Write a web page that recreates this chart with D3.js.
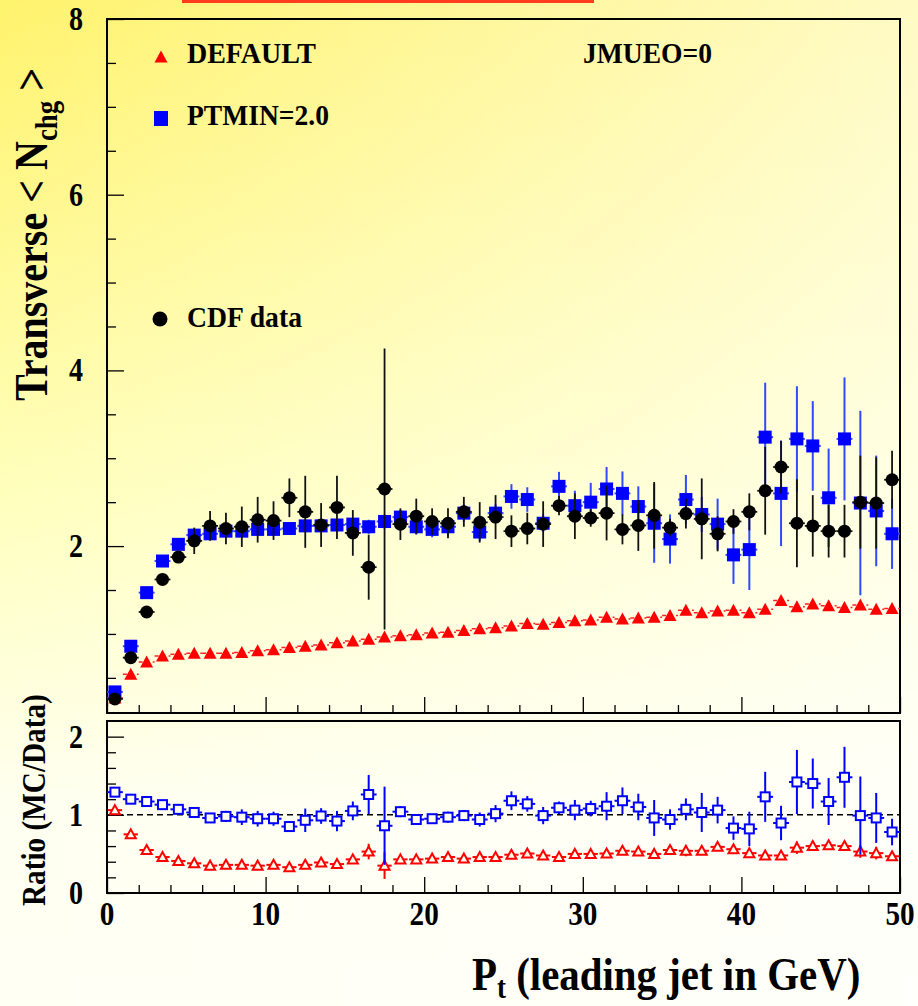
<!DOCTYPE html>
<meta charset="utf-8">
<style>
body{margin:0;}
text{
  font-family:"Liberation Serif","Times New Roman",serif;
  font-weight:bold;
  fill:#000;
}
.frame{fill:none;stroke:#000;stroke-width:2px;}
.tick line{stroke:#000;stroke-width:1.3px;}
</style>
<body>
<div id="plot"></div>
<script src="https://d3js.org/d3.v7.min.js"></script>
<script>
// bin centres (leading jet Pt, GeV)
var ptBins = [0.5,1.5,2.5,3.5,4.5,5.5,6.5,7.5,8.5,9.5,
  10.5,11.5,12.5,13.5,14.5,15.5,16.5,17.5,18.5,19.5,
  20.5,21.5,22.5,23.5,24.5,25.5,26.5,27.5,28.5,29.5,
  30.5,31.5,32.5,33.5,34.5,35.5,36.5,37.5,38.5,39.5,
  40.5,41.5,42.5,43.5,44.5,45.5,46.5,47.5,48.5,49.5];

var cdfData = [0.26,0.73,1.25,1.62,1.875,2.06,2.23,2.20,2.22,2.30,
  2.29,2.55,2.39,2.24,2.44,2.15,1.76,2.65,2.25,2.34,
  2.28,2.26,2.39,2.27,2.33,2.17,2.20,2.25,2.46,2.34,
  2.32,2.375,2.19,2.235,2.35,2.21,2.37,2.31,2.14,2.28,
  2.39,2.63,2.90,2.26,2.23,2.17,2.17,2.50,2.49,2.755];
var cdfErr = [0.02,0.02,0.03,0.04,0.05,0.15,0.17,0.18,0.23,0.26,
  0.22,0.22,0.41,0.25,0.36,0.26,0.37,1.60,0.18,0.20,
  0.15,0.17,0.17,0.23,0.25,0.18,0.18,0.26,0.11,0.26,
  0.10,0.31,0.17,0.29,0.38,0.10,0.17,0.46,0.20,0.14,
  0.21,0.50,0.30,0.50,0.35,0.30,0.30,0.53,0.52,0.33];

var ptminMC = [0.34,0.86,1.47,1.83,2.02,2.125,2.14,2.17,2.17,2.19,
  2.19,2.20,2.23,2.23,2.24,2.25,2.22,2.28,2.33,2.22,
  2.19,2.22,2.375,2.16,2.375,2.565,2.53,2.26,2.68,2.46,
  2.50,2.65,2.60,2.45,2.26,2.08,2.53,2.36,2.25,1.90,
  1.96,3.24,2.60,3.22,3.14,2.55,3.22,2.49,2.40,2.14];
var ptminErr = [0.02,0.02,0.03,0.03,0.03,0.04,0.04,0.04,0.05,0.05,
  0.05,0.05,0.06,0.06,0.07,0.07,0.08,0.08,0.08,0.09,
  0.09,0.10,0.10,0.10,0.10,0.14,0.14,0.10,0.165,0.17,
  0.22,0.25,0.25,0.23,0.45,0.28,0.28,0.20,0.29,0.33,
  0.46,0.62,0.60,0.60,0.51,0.56,0.70,1.05,0.63,0.40];

var defaultMC = [0.27,0.54,0.68,0.75,0.77,0.78,0.78,0.78,0.79,0.81,
  0.82,0.845,0.86,0.875,0.90,0.92,0.94,0.965,0.98,0.99,
  1.01,1.02,1.04,1.06,1.07,1.09,1.12,1.11,1.13,1.15,
  1.16,1.19,1.17,1.18,1.19,1.21,1.27,1.24,1.26,1.27,
  1.24,1.28,1.38,1.31,1.34,1.32,1.30,1.33,1.28,1.29];

var ratioPtmin = [1.29,1.20,1.17,1.13,1.07,1.03,0.96,0.98,0.97,0.95,
  0.95,0.85,0.93,0.985,0.92,1.05,1.26,0.86,1.04,0.94,
  0.95,0.97,0.99,0.94,1.015,1.18,1.14,0.99,1.09,1.06,
  1.08,1.11,1.18,1.10,0.96,0.94,1.07,1.03,1.06,0.83,
  0.82,1.23,0.895,1.42,1.40,1.17,1.48,0.99,0.96,0.78];
var ratioPtminErr = [0.03,0.03,0.03,0.03,0.04,0.04,0.05,0.07,0.10,0.10,
  0.09,0.07,0.15,0.10,0.13,0.12,0.25,0.50,0.07,0.06,
  0.06,0.07,0.07,0.09,0.11,0.12,0.10,0.11,0.08,0.13,
  0.10,0.18,0.17,0.17,0.23,0.13,0.14,0.25,0.17,0.15,
  0.22,0.32,0.22,0.41,0.32,0.30,0.39,0.50,0.32,0.17];

var ratioDefault = [1.06,0.75,0.55,0.46,0.41,0.38,0.35,0.36,0.36,0.35,
  0.36,0.33,0.36,0.39,0.37,0.43,0.53,0.35,0.43,0.43,
  0.44,0.46,0.44,0.46,0.46,0.49,0.505,0.48,0.46,0.50,
  0.50,0.505,0.54,0.53,0.50,0.55,0.54,0.54,0.59,0.56,
  0.51,0.48,0.48,0.58,0.60,0.61,0.60,0.53,0.51,0.47];
var ratioDefaultErr = [0.02,0.02,0.02,0.02,0.02,0.02,0.02,0.02,0.02,0.02,
  0.02,0.02,0.02,0.02,0.02,0.02,0.10,0.17,0.02,0.02,
  0.02,0.02,0.02,0.02,0.02,0.02,0.02,0.02,0.02,0.02,
  0.03,0.03,0.04,0.05,0.03,0.04,0.07,0.03,0.04,0.03,
  0.04,0.05,0.03,0.08,0.06,0.05,0.05,0.08,0.08,0.04];

var xTicks = [0,10,20,30,40,50];
var yTicksTop = [2,4,6,8];
var yTicksRatio = [0,1,2];

var svg = d3.select("#plot").append("svg").attr("width",918).attr("height",1006);

// page background
var defs = svg.append("defs");
var bg = defs.append("linearGradient").attr("id","bg")
    .attr("x1",0).attr("y1",0).attr("x2",0).attr("y2",1);
bg.append("stop").attr("offset","0%").attr("stop-color","#fff36c");
bg.append("stop").attr("offset","50%").attr("stop-color","#ffffbe");
bg.append("stop").attr("offset","80%").attr("stop-color","#fffff0");
bg.append("stop").attr("offset","100%").attr("stop-color","#fffff4");
var sheen = defs.append("linearGradient").attr("id","sheen")
    .attr("x1",0).attr("y1",0).attr("x2",1).attr("y2",0);
sheen.append("stop").attr("offset","0%").attr("stop-color","#fff").attr("stop-opacity",0);
sheen.append("stop").attr("offset","100%").attr("stop-color","#fff").attr("stop-opacity",0.6);
svg.append("rect").attr("width",918).attr("height",1006).attr("fill","url(#bg)");
svg.append("rect").attr("width",918).attr("height",1006).attr("fill","url(#sheen)");

// red underline of the cut-off title
svg.append("rect").attr("x",182).attr("y",0).attr("width",412).attr("height",3).attr("fill","#ff3c1e");

var x = d3.scaleLinear().domain([0,50]).range([107,900]);
var yTop = d3.scaleLinear().domain([0.1,8]).range([713,19]);
var yRat = d3.scaleLinear().domain([0,2.2]).range([893,721]);

function notIn(list){ return function(v){ return list.indexOf(v) < 0; }; }
var xMinor = d3.range(0,51,2).filter(notIn(xTicks));
var yMinorTop = d3.range(0.5,8,0.5).filter(notIn(yTicksTop));
var yMinorRat = d3.range(0.2,2.2,0.2).map(function(v){return +v.toFixed(1);}).filter(notIn([1,2]));

function axisG(tr, axis){
    var g = svg.append("g").attr("transform",tr).call(axis);
    g.select(".domain").remove();
    return g;
}

// upper panel ticks
axisG("translate(107,0)", d3.axisLeft(yTop).tickValues(yTicksTop).tickSize(-17).tickFormat(""));
axisG("translate(107,0)", d3.axisLeft(yTop).tickValues(yMinorTop).tickSize(-9).tickFormat(""));
axisG("translate(0,713)", d3.axisBottom(x).tickValues(xTicks).tickSize(-16).tickFormat(""));
axisG("translate(0,713)", d3.axisBottom(x).tickValues(xMinor).tickSize(-8).tickFormat(""));

// ratio panel ticks
axisG("translate(107,0)", d3.axisLeft(yRat).tickValues(yTicksRatio).tickSize(-17).tickFormat(""));
axisG("translate(107,0)", d3.axisLeft(yRat).tickValues(yMinorRat).tickSize(-9).tickFormat(""));
axisG("translate(0,893)", d3.axisBottom(x).tickValues(xTicks).tickSize(-16).tickFormat(""));
axisG("translate(0,893)", d3.axisBottom(x).tickValues(xMinor).tickSize(-8).tickFormat(""));

// frames
svg.append("rect").attr("class","frame").attr("x",107).attr("y",19).attr("width",793).attr("height",694);
svg.append("rect").attr("class","frame").attr("x",107).attr("y",721).attr("width",793).attr("height",172);

function label(str, px, py, size, anchor, sx){
    return svg.append("text")
        .attr("transform","translate("+px+","+py+") scale("+sx+",1)")
        .attr("text-anchor",anchor)
        .style("font-size",size+"px")
        .text(str);
}

yTicksTop.forEach(function(v){ label(v, 83, yTop(v)+11, 33, "end", 0.85); });
yTicksRatio.forEach(function(v){ label(v, 83, yRat(v)+11, 33, "end", 0.85); });
xTicks.forEach(function(v){ label(v, x(v), 925, 34, "middle", 0.86); });

// axis titles
var yt = svg.append("text").attr("transform","translate(47,401) rotate(-90) scale(0.87,1)").style("font-size","46px");
yt.append("tspan").text("Transverse < N");
yt.append("tspan").attr("dy",10).style("font-size","31px").text("chg");
yt.append("tspan").attr("dy",-10).text(" >");

svg.append("text").attr("transform","translate(45,906) rotate(-90) scale(0.86,1)").style("font-size","34px").text("Ratio (MC/Data)");

var xt = svg.append("text").attr("transform","translate(472,990) scale(0.87,1)").style("font-size","47px");
xt.append("tspan").text("P");
xt.append("tspan").attr("dy",8).style("font-size","31px").text("t");
xt.append("tspan").attr("dy",-8).text(" (leading jet in GeV)");

// legend
var tri = "M0,-6.5L6.5,5.5L-6.5,5.5Z";
var triOpen = "M0,-5L5,4L-5,4Z";
svg.append("path").attr("d",tri).attr("transform","translate(161,57)").attr("fill","#ff0000");
svg.append("rect").attr("x",154).attr("y",111).attr("width",14).attr("height",15).attr("fill","#0000ff");
svg.append("circle").attr("cx",160).attr("cy",319).attr("r",7.5).attr("fill","#000");
svg.append("text").attr("x",187).attr("y",63).attr("textLength",129).attr("lengthAdjust","spacingAndGlyphs").style("font-size","30px").text("DEFAULT");
svg.append("text").attr("x",583).attr("y",63).attr("textLength",129).attr("lengthAdjust","spacingAndGlyphs").style("font-size","30px").text("JMUEO=0");
svg.append("text").attr("x",187).attr("y",125).attr("textLength",142).attr("lengthAdjust","spacingAndGlyphs").style("font-size","30px").text("PTMIN=2.0");
svg.append("text").attr("x",187).attr("y",327).attr("textLength",115).attr("lengthAdjust","spacingAndGlyphs").style("font-size","30px").text("CDF data");

var idx = d3.range(ptBins.length);

// upper: DEFAULT
var gRed = svg.append("g");
gRed.selectAll("line").data(idx).join("line")
    .attr("x1",i=>x(ptBins[i]-0.5)).attr("x2",i=>x(ptBins[i]+0.5))
    .attr("y1",i=>yTop(defaultMC[i])).attr("y2",i=>yTop(defaultMC[i]))
    .attr("stroke","#ff2020").attr("stroke-width",1.5).attr("stroke-dasharray","4,3");
gRed.selectAll("path").data(idx).join("path")
    .attr("d",tri).attr("fill","#ff0000")
    .attr("transform",i=>"translate("+x(ptBins[i])+","+yTop(defaultMC[i])+")");

// upper: PTMIN=2.0
var gBlue = svg.append("g");
gBlue.selectAll("line.v").data(idx).join("line").attr("class","v")
    .attr("x1",i=>x(ptBins[i])).attr("x2",i=>x(ptBins[i]))
    .attr("y1",i=>yTop(ptminMC[i]-ptminErr[i])).attr("y2",i=>yTop(ptminMC[i]+ptminErr[i]))
    .attr("stroke","#3048ff").attr("stroke-width",2);
gBlue.selectAll("line.h").data(idx).join("line").attr("class","h")
    .attr("x1",i=>x(ptBins[i]-0.5)).attr("x2",i=>x(ptBins[i]+0.5))
    .attr("y1",i=>yTop(ptminMC[i])).attr("y2",i=>yTop(ptminMC[i]))
    .attr("stroke","#3048ff").attr("stroke-width",2);
gBlue.selectAll("rect").data(idx).join("rect")
    .attr("x",i=>x(ptBins[i])-6.5).attr("y",i=>yTop(ptminMC[i])-6.5)
    .attr("width",13).attr("height",13).attr("fill","#0000ff");

// upper: CDF data
var gBlk = svg.append("g");
gBlk.selectAll("line.v").data(idx).join("line").attr("class","v")
    .attr("x1",i=>x(ptBins[i])).attr("x2",i=>x(ptBins[i]))
    .attr("y1",i=>yTop(cdfData[i]-cdfErr[i])).attr("y2",i=>yTop(cdfData[i]+cdfErr[i]))
    .attr("stroke","#111").attr("stroke-width",1.8);
gBlk.selectAll("line.h").data(idx).join("line").attr("class","h")
    .attr("x1",i=>x(ptBins[i]-0.5)).attr("x2",i=>x(ptBins[i]+0.5))
    .attr("y1",i=>yTop(cdfData[i])).attr("y2",i=>yTop(cdfData[i]))
    .attr("stroke","#111").attr("stroke-width",1.8);
gBlk.selectAll("circle").data(idx).join("circle")
    .attr("cx",i=>x(ptBins[i])).attr("cy",i=>yTop(cdfData[i]))
    .attr("r",6.5).attr("fill","#000");

// ratio panel
svg.append("line").attr("x1",x(0)).attr("x2",x(50)).attr("y1",yRat(1)).attr("y2",yRat(1))
    .attr("stroke","#000").attr("stroke-width",1.5).attr("stroke-dasharray","6,4");

var rRed = svg.append("g");
rRed.selectAll("line.v").data(idx).join("line").attr("class","v")
    .attr("x1",i=>x(ptBins[i])).attr("x2",i=>x(ptBins[i]))
    .attr("y1",i=>yRat(ratioDefault[i]-ratioDefaultErr[i])).attr("y2",i=>yRat(ratioDefault[i]+ratioDefaultErr[i]))
    .attr("stroke","#ff0000").attr("stroke-width",2);
rRed.selectAll("line.h").data(idx).join("line").attr("class","h")
    .attr("x1",i=>x(ptBins[i]-0.45)).attr("x2",i=>x(ptBins[i]+0.45))
    .attr("y1",i=>yRat(ratioDefault[i])).attr("y2",i=>yRat(ratioDefault[i]))
    .attr("stroke","#ff0000").attr("stroke-width",2);
rRed.selectAll("path").data(idx).join("path")
    .attr("d",triOpen).attr("fill","#fffff0").attr("stroke","#ff0000").attr("stroke-width",2)
    .attr("transform",i=>"translate("+x(ptBins[i])+","+yRat(ratioDefault[i])+")");

var rBlue = svg.append("g");
rBlue.selectAll("line.v").data(idx).join("line").attr("class","v")
    .attr("x1",i=>x(ptBins[i])).attr("x2",i=>x(ptBins[i]))
    .attr("y1",i=>yRat(ratioPtmin[i]-ratioPtminErr[i])).attr("y2",i=>yRat(ratioPtmin[i]+ratioPtminErr[i]))
    .attr("stroke","#0000ff").attr("stroke-width",2);
rBlue.selectAll("line.h").data(idx).join("line").attr("class","h")
    .attr("x1",i=>x(ptBins[i]-0.5)).attr("x2",i=>x(ptBins[i]+0.5))
    .attr("y1",i=>yRat(ratioPtmin[i])).attr("y2",i=>yRat(ratioPtmin[i]))
    .attr("stroke","#0000ff").attr("stroke-width",2);
rBlue.selectAll("rect").data(idx).join("rect")
    .attr("x",i=>x(ptBins[i])-4.5).attr("y",i=>yRat(ratioPtmin[i])-4.5)
    .attr("width",9).attr("height",9)
    .attr("fill","#fffff0").attr("stroke","#0000ff").attr("stroke-width",2);
</script>
</body>
